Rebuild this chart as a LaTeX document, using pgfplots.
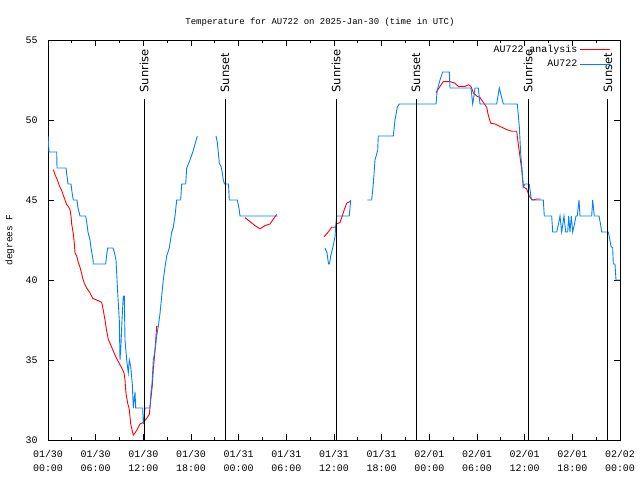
\documentclass[border=0pt]{standalone}
\usepackage{fontspec}
\setmainfont{Liberation Mono}
\newfontfamily\labfont{DejaVu Sans}
\usepackage{pgfplots}
\pgfplotsset{compat=1.18}
\definecolor{obsblue}{RGB}{0,128,255}
\begin{document}
\begin{tikzpicture}
\useasboundingbox (0,0) rectangle (640bp,480bp);
\begin{axis}[
  at={(48bp,40bp)}, anchor=south west, scale only axis,
  width=572bp, height=400bp,
  xmin=0, xmax=72, ymin=30, ymax=55,
  xtick={0,6,...,72}, minor xtick={3,9,...,69},
  xticklabels={01/30\\00:00,01/30\\06:00,01/30\\12:00,01/30\\18:00,01/31\\00:00,01/31\\06:00,01/31\\12:00,01/31\\18:00,02/01\\00:00,02/01\\06:00,02/01\\12:00,02/01\\18:00,02/02\\00:00},
  xticklabel style={align=center, font=\fontsize{10}{13.5}\selectfont, yshift=-7bp},
  ytick={30,35,...,55},
  yticklabel style={font=\fontsize{10}{12}\selectfont, xshift=-7bp},
  /pgf/number format/assume math mode=true,
  tick align=inside, major tick length=6bp, minor tick length=3bp,
  tick style={black, line width=0.7pt},
  axis line style={line width=0.8pt},
  unbounded coords=jump,
  legend cell align=right, legend plot pos=right,
  legend style={draw=none, fill=none, at={(rel axis cs:0.985,0.995)}, anchor=north east,
    font=\fontsize{10}{11}\selectfont, row sep=2pt, inner sep=1pt},
  legend image code/.code={\draw[mark repeat=2,mark phase=2,#1] plot coordinates {(0bp,0bp) (15bp,0bp) (30bp,0bp)};},
]
% AU722 analysis (red)
\addplot[red, line width=0.9pt] coordinates {
(0.667,46.9)(0.881,46.6)(1.171,46.25)(1.422,45.9)(1.724,45.6)(1.926,45.3)(2.140,45.0)(2.354,44.7)(2.555,44.6)(2.769,44.4)(2.895,44.0)(2.983,43.5)(3.185,42.9)(3.310,42.3)(3.399,41.7)(3.613,41.5)(3.814,41.1)(4.028,40.8)(4.242,40.4)(4.368,40.1)(4.569,39.8)(4.871,39.5)(5.287,39.2)(5.627,38.85)(6.130,38.75)(6.759,38.6)(6.961,38.1)(7.175,37.5)(7.389,36.8)(7.590,36.3)(8.018,35.8)(8.434,35.3)(8.849,34.9)(9.277,34.5)(9.566,34.2)(9.692,33.75)(9.818,32.9)(10.032,32.3)(10.234,31.9)(10.410,31.0)(10.737,30.3)(11.165,30.6)(11.580,31.0)(11.996,31.1)(12.424,31.35)(12.751,31.6)(12.927,32.5)(13.129,33.4)(13.255,34.4)(13.469,35.6)(13.682,37.1)(13.808,37.1)
(18,nan)
(24.797,43.9)(25.427,43.65)(26.056,43.4)(26.685,43.2)(27.315,43.4)(27.944,43.5)(28.360,43.8)(28.787,44.1)
(31,nan)
(34.741,42.7)(35.283,43.0)(35.710,43.3)(36.126,43.3)(36.340,43.5)(36.755,43.6)(37.045,44.0)(37.297,44.4)(37.598,44.8)(38.014,44.9)
(42,nan)
(48.839,51.7)(49.343,52.1)(49.758,52.4)(50.601,52.4)(51.231,52.3)(51.647,52.1)(52.489,52.1)(52.905,52.2)(53.245,52.1)(53.534,51.7)(53.962,51.5)(54.378,51.4)(54.792,51.1)(55.220,50.8)(55.422,50.3)(55.723,49.8)(56.266,49.75)(56.895,49.6)(57.738,49.4)(58.368,49.3)(58.997,49.3)(59.198,48.5)(59.413,47.7)(59.627,46.9)(59.753,46.25)(59.828,45.8)(60.256,45.7)(60.458,45.4)(60.583,45.25)(60.797,45.1)(61.049,45.0)(61.514,45.06)(62.017,45.06)
};
\addlegendentry{AU722 analysis}
% AU722 observations (blue)
\addplot[obsblue, line width=0.9pt] coordinates {
(0,49)(0.126,48)(1.095,48)(1.133,47)(2.266,47)(2.392,46.5)(2.517,46)(2.895,46)(3.021,45.5)(3.185,45)(3.650,45)(3.776,44.5)(4.028,44)(4.745,44)(4.909,43.5)(5.035,43)(5.287,42.5)(5.413,42)(5.664,41.3)(5.702,41)(7.263,41)(7.364,41.5)(7.515,42)(8.182,42)(8.371,41.7)(8.559,41.25)(8.773,39.2)(8.975,37.5)(9.063,35)(9.189,36)(9.315,37.5)(9.478,39)(9.604,39)(9.692,36.25)(9.906,35)(10.108,34.2)(10.234,35)(10.410,34.6)(10.611,33.5)(10.737,32)(10.951,33)(11.039,32)(11.920,32)(11.996,31)(12.122,31.5)(12.210,32)(12.839,32)(12.965,33)(13.091,33.5)(13.255,35)(13.469,35.6)(13.682,36.5)(13.884,37.1)(14.098,37.9)(14.312,39)(14.513,40)(14.727,40.8)(14.941,41.5)(15.268,42)(15.571,43)(15.772,43.3)(15.986,44)(16.200,45)(16.703,45)(16.829,46)(17.333,46)(17.459,47)(17.874,47.5)(18.289,48.1)(18.793,49)
(20,nan)
(21.147,49)(21.310,48.6)(21.436,48)(21.562,47.3)(21.776,47.1)(21.940,46.7)(22.066,46.25)(22.217,46)(22.720,46)(22.821,45)(23.828,45)(24.042,44.5)(24.168,44)(28.913,44)
(31,nan)
(34.867,42)(35.119,41.7)(35.308,41)(35.434,41)(35.584,41.5)(35.836,42)(36.126,42.7)(36.252,43.6)(36.340,44)(37.926,44)(38.102,45)
(39,nan)
(40.192,45)(40.745,45)(40.947,46)(41.161,47.5)(41.500,48.1)(41.576,49)(43.464,49)(43.678,50)(43.968,50.8)(44.219,51)(48.839,51)(49.003,51.9)(49.128,52.1)(49.343,52.5)(49.682,53)(50.513,53)(50.601,52)(53.245,52)(53.459,51)(53.622,51.5)(53.748,52)(54.163,52)(54.378,51)(56.480,51)(56.807,52)(57.311,51)(59.073,51)(59.325,49.6)(59.501,47.9)(59.702,46.7)(59.828,45.8)(60.042,46)(60.583,46)(60.759,45.3)(60.885,45)(62.345,45)(62.471,44)(63.402,44)(63.528,43)(64.032,43)(64.259,43.5)(64.448,44)(64.661,43)(64.951,44)(65.165,43)(65.417,43)(65.543,44)(65.706,43)(65.870,44)(66.046,43)(66.273,43.5)(66.462,44)(66.625,44)(66.839,45)(66.965,44)(68.438,44)(68.564,45)(68.765,44)(69.357,44)(69.545,43.5)(69.697,43)(70.527,43)(70.653,42.7)(70.867,42.1)(71.081,42)(71.156,41)(71.371,41)(71.497,40)(72,40)
};
\addlegendentry{AU722}
% sunrise / sunset markers
\addplot[black, line width=1pt, forget plot] coordinates {(12.084,30)(12.084,51.3)};
\addplot[black, line width=1pt, forget plot] coordinates {(22.280,30)(22.280,51.3)};
\addplot[black, line width=1pt, forget plot] coordinates {(36.252,30)(36.252,51.3)};
\addplot[black, line width=1pt, forget plot] coordinates {(46.322,30)(46.322,51.3)};
\addplot[black, line width=1pt, forget plot] coordinates {(60.420,30)(60.420,51.3)};
\addplot[black, line width=1pt, forget plot] coordinates {(70.489,30)(70.489,51.3)};
\begin{scope}[every node/.style={rotate=90, anchor=west, inner sep=1pt, font=\labfont\fontsize{11.5}{12}\selectfont}]
\node at (axis cs:12.084,51.65) {Sunrise};
\node at (axis cs:22.280,51.65) {Sunset};
\node at (axis cs:36.252,51.65) {Sunrise};
\node at (axis cs:46.322,51.65) {Sunset};
\node at (axis cs:60.420,51.65) {Sunrise};
\node at (axis cs:70.489,51.65) {Sunset};
\end{scope}
\end{axis}
\node[font=\fontsize{9}{11}\selectfont] at (320bp,458bp) {Temperature for AU722 on 2025-Jan-30 (time in UTC)};
\node[rotate=90, font=\fontsize{9.5}{11}\selectfont] at (10bp,240bp) {degrees F};
\end{tikzpicture}
\end{document}
